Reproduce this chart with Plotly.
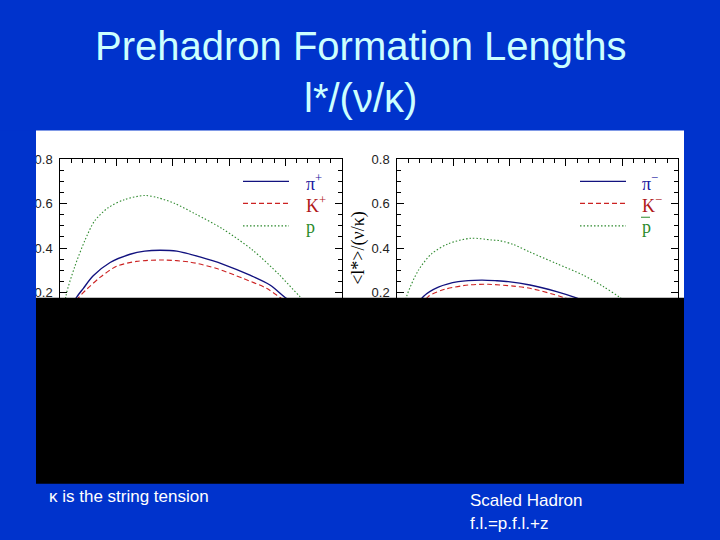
import plotly.graph_objects as go
from plotly.subplots import make_subplots

# ---------------- data ----------------
# left panel: positive hadrons
pip_z = [0.0, 0.03, 0.056, 0.082, 0.117, 0.177, 0.248, 0.30, 0.354, 0.414, 0.496, 0.579, 0.674, 0.745, 0.799, 0.9, 1.0]
pip_l = [0.0, 0.10, 0.175, 0.219, 0.275, 0.335, 0.372, 0.386, 0.390, 0.386, 0.360, 0.327, 0.278, 0.234, 0.178, 0.09, 0.0]
kp_z = [0.0, 0.035, 0.064, 0.094, 0.141, 0.2, 0.271, 0.366, 0.461, 0.556, 0.65, 0.733, 0.781, 0.88, 1.0]
kp_l = [0.0, 0.09, 0.175, 0.215, 0.268, 0.318, 0.340, 0.346, 0.337, 0.308, 0.263, 0.219, 0.178, 0.09, 0.0]
p_z = [0.0, 0.021, 0.051, 0.087, 0.122, 0.17, 0.229, 0.30, 0.347, 0.407, 0.482, 0.577, 0.684, 0.778, 0.85, 0.93, 1.0]
p_l = [0.0, 0.19, 0.315, 0.433, 0.522, 0.581, 0.618, 0.636, 0.626, 0.600, 0.552, 0.486, 0.390, 0.28, 0.184, 0.09, 0.0]

# right panel: negative hadrons
pim_z = [0.0, 0.05, 0.093, 0.146, 0.217, 0.30, 0.354, 0.395, 0.472, 0.567, 0.632, 0.75, 0.88, 1.0]
pim_l = [0.0, 0.10, 0.182, 0.224, 0.249, 0.256, 0.253, 0.249, 0.234, 0.204, 0.178, 0.12, 0.06, 0.0]
km_z = [0.0, 0.06, 0.11, 0.17, 0.253, 0.324, 0.413, 0.472, 0.591, 0.72, 0.86, 1.0]
km_l = [0.0, 0.09, 0.182, 0.215, 0.234, 0.237, 0.229, 0.219, 0.178, 0.11, 0.05, 0.0]
pbar_z = [0.0, 0.033, 0.075, 0.122, 0.181, 0.262, 0.336, 0.365, 0.413, 0.472, 0.567, 0.662, 0.733, 0.792, 0.88, 1.0]
pbar_l = [0.0, 0.182, 0.30, 0.374, 0.419, 0.444, 0.436, 0.433, 0.416, 0.382, 0.33, 0.278, 0.227, 0.178, 0.09, 0.0]

y_ticks = [0.2, 0.4, 0.6, 0.8]
y_tick_text = ["0.2", "0.4", "0.6", "0.8"]

title_line1 = "Prehadron Formation Lengths"
title_line2 = "l*/(ν/κ)"
note_left = "κ is the string tension"
note_right_1 = "Scaled Hadron"
note_right_2 = "f.l.=p.f.l.+z"
y_title = "&lt;l*&gt;/(ν/κ)"

left_labels = ["π<sup>+</sup>", "K<sup>+</sup>", "p"]
right_labels = ["π<sup>−</sup>", "K<sup>−</sup>", "p"]

# ---------------- styles ----------------
W, H = 720, 540
BG = "#0033cc"
C_PI, C_K, C_P = "#12127f", "#cc2222", "#2f8a2f"
T_PI, T_K, T_P = "#1a1aa0", "#b01818", "#2a8a2a"

def px(x):
    return x / W

def py(y):
    return 1 - y / H

fig = make_subplots(rows=1, cols=2)

series = [
    (1, pip_z, pip_l, C_PI, "solid", 1.4),
    (1, kp_z, kp_l, C_K, "5px,3px", 1.1),
    (1, p_z, p_l, C_P, "1.5px,2px", 1.1),
    (2, pim_z, pim_l, C_PI, "solid", 1.4),
    (2, km_z, km_l, C_K, "5px,3px", 1.1),
    (2, pbar_z, pbar_l, C_P, "1.5px,2px", 1.1),
]
for col, xs, ys, c, dash, w in series:
    fig.add_trace(go.Scatter(x=xs, y=ys, mode="lines",
                             line=dict(color=c, dash=dash, width=w, shape="spline", smoothing=0.8),
                             showlegend=False, hoverinfo="skip"), row=1, col=col)

dom_y = [py(334.4), py(154.0)]
dom_left = [px(60.3), px(341.7)]
dom_right = [px(397.3), px(678.3)]

axis_common = dict(showline=True, linecolor="black", linewidth=1, mirror="allticks",
                   ticks="inside", ticklen=7, tickcolor="black", tickwidth=1,
                   showgrid=False, zeroline=False)

fig.update_xaxes(range=[0, 1], dtick=0.2, showticklabels=False,
                 minor=dict(ticks="inside", ticklen=4, dtick=0.04, tickcolor="black", showgrid=False),
                 **axis_common)
fig.update_yaxes(range=[0, 0.8], tickvals=y_ticks, ticktext=y_tick_text,
                 tickfont=dict(family="Liberation Sans", size=13, color="#222"),
                 ticklabelstandoff=4,
                 minor=dict(ticks="inside", ticklen=4, dtick=0.05, tickcolor="black", showgrid=False),
                 **axis_common)
fig.update_layout(
    xaxis=dict(domain=dom_left), xaxis2=dict(domain=dom_right),
    yaxis=dict(domain=dom_y), yaxis2=dict(domain=dom_y,
        title=dict(text=y_title, font=dict(family="Liberation Serif", size=18, color="black"), standoff=2)),
)

shapes = []
# white picture area
shapes.append(dict(type="rect", xref="paper", yref="paper", x0=px(36), x1=px(684),
                   y0=py(300), y1=py(125), fillcolor="white", line=dict(width=0), layer="below"))
# black box covering the lower part
shapes.append(dict(type="rect", xref="paper", yref="paper", x0=px(36), x1=px(684),
                   y0=py(483), y1=py(294.5), fillcolor="black", line=dict(width=0), layer="above"))
# blue strip left of picture (crops tick label)
shapes.append(dict(type="rect", xref="paper", yref="paper", x0=0, x1=px(36),
                   y0=py(300), y1=py(125), fillcolor=BG, line=dict(width=0), layer="above"))

annotations = []
rows_y = [176.7, 199.0, 221.7]
leg_styles = [(C_PI, "solid", 1.4, T_PI), (C_K, "5px,3px", 1.1, T_K), (C_P, "1.5px,2px", 1.1, T_P)]
for (x0, x1, xt, labels) in [(243, 289, 304, left_labels), (580, 626, 640, right_labels)]:
    for ry, (c, dash, w, tc), lab in zip(rows_y, leg_styles, labels):
        shapes.append(dict(type="line", xref="paper", yref="paper", x0=px(x0), x1=px(x1),
                           y0=py(ry), y1=py(ry), line=dict(color=c, dash=dash, width=w), layer="above"))
        annotations.append(dict(x=px(xt), y=py(ry + 1), xref="paper", yref="paper", text=lab,
                                showarrow=False, xanchor="left", yanchor="middle",
                                font=dict(family="Liberation Serif", size=18, color=tc)))
# overline on p-bar
shapes.append(dict(type="line", xref="paper", yref="paper", x0=px(641), x1=px(650),
                   y0=py(213), y1=py(213), line=dict(color=T_P, width=1), layer="above"))

annotations += [
    dict(x=0.5, y=py(40), xref="paper", yref="paper", text=title_line1, showarrow=False,
         xanchor="center", yanchor="middle", font=dict(family="Liberation Sans", size=40, color="#ccffff")),
    dict(x=0.5, y=py(92), xref="paper", yref="paper", text=title_line2, showarrow=False,
         xanchor="center", yanchor="middle", font=dict(family="Liberation Sans", size=40, color="#ccffff")),
    dict(x=px(47), y=py(496), xref="paper", yref="paper", text=note_left, showarrow=False,
         xanchor="left", yanchor="middle", font=dict(family="Liberation Sans", size=17, color="white")),
    dict(x=px(468), y=py(500), xref="paper", yref="paper", text=note_right_1, showarrow=False,
         xanchor="left", yanchor="middle", font=dict(family="Liberation Sans", size=17, color="white")),
    dict(x=px(468), y=py(523), xref="paper", yref="paper", text=note_right_2, showarrow=False,
         xanchor="left", yanchor="middle", font=dict(family="Liberation Sans", size=17, color="white")),
]

fig.update_layout(width=W, height=H, margin=dict(l=0, r=0, t=0, b=0),
                  paper_bgcolor=BG, plot_bgcolor="white",
                  shapes=shapes, annotations=annotations, showlegend=False)

fig.write_html("out.html", config={"displayModeBar": False},
               post_script="document.body.style.margin='0';document.body.style.padding='0';"
                           "document.documentElement.style.overflow='hidden';")
